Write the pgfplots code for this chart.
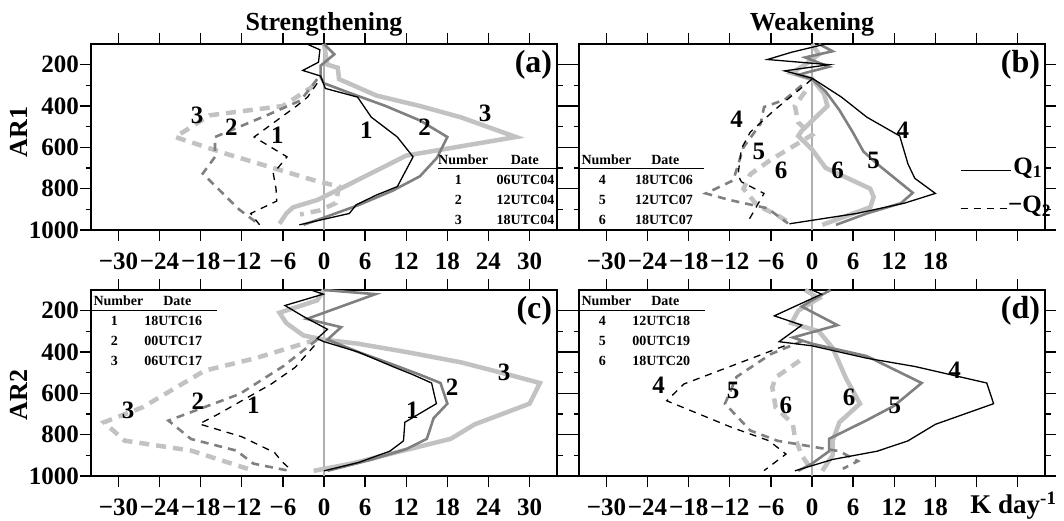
\documentclass[border=0pt]{standalone}
\usepackage{fontspec}
\setmainfont{Liberation Serif}
\usepackage{pgfplots}
\pgfplotsset{compat=1.18}
\definecolor{g2}{RGB}{128,128,128}
\definecolor{g3}{RGB}{194,194,194}
\definecolor{g0}{RGB}{175,175,175}
\newcommand\fs[1]{\fontsize{#1}{#1}\selectfont\bfseries}
\newcommand\tl[1]{\mbox{\fs{25}#1}}
\tikzset{
  q1/.style={black,line width=1.3pt},
  q2/.style={g2,line width=2.6pt},
  q3/.style={g3,line width=4.5pt},
  d1/.style={q1,dash pattern=on 7pt off 6pt},
  d2/.style={q2,dash pattern=on 8pt off 6pt},
  d3/.style={q3,dash pattern=on 10pt off 7pt},
  zl/.style={g0,line width=1.1pt},
  lab/.style={font=\fs{25}},
  tab/.style={font=\fs{14}},
}
\pgfplotsset{
  panel/.style={
    scale only axis, width=466pt, height=186pt,
    xmin=-34, xmax=34, ymin=100, ymax=1000, y dir=reverse,
    xtick={-30,-24,...,30},
    ytick={200,400,600,800,1000},
    yticklabels={\tl{200},\tl{400},\tl{600},\tl{800},\tl{1000}},
    minor ytick={300,500,700,900},
    tick align=outside,
    major tick length=11pt, minor tick length=5.5pt,
    tick style={black,line width=1.3pt},
    axis line style={line width=1.5pt},
    ticklabel style={font=\fs{25}},
    xticklabel style={yshift=-8pt},
    yticklabel style={inner xsep=1pt},
    clip=false,
  },
  full/.style={xticklabels={\tl{−30},\tl{−24},\tl{−18},\tl{−12},\tl{−6},\tl{0},\tl{6},\tl{12},\tl{18},\tl{24},\tl{30}}},
  part/.style={xticklabels={\tl{−30},\tl{−24},\tl{−18},\tl{−12},\tl{−6},\tl{0},\tl{6},\tl{12},\tl{18},,}, yticklabels={}},
}
\begin{document}
\begin{tikzpicture}
\useasboundingbox (0,0) rectangle (1064pt,520pt);

% (a) AR1 strengthening
\begin{axis}[panel, full, at={(91pt,290pt)}]
\addplot[zl] coordinates {(0,100)(0,1000)};
\addplot[d3] coordinates {(-1.4,300)(-6,400)(-16.7,445)(-21.7,550)(-14.4,630)(-1.4,760)(2.2,790)(1.7,870)(-0.6,905)(-3.5,925)};
\addplot[q3] coordinates {(0,100)(0.5,200)(2,215)(2.2,270)(7.7,350)(14,400)(20,455)(28,550)(12,640)(6,740)(3,790)(-1,855)(-4.5,890)(-5.5,920)(-6.5,970)};
\addplot[d2] coordinates {(-1,270)(-3.4,373)(-8,440)(-15.9,550)(-15.9,646)(-17.7,727)(-12.4,900)(-9.4,975)};
\addplot[q2] coordinates {(0,100)(1.5,150)(-0.5,205)(-0.5,260)(0,290)(4,340)(9,400)(14,470)(18,550)(16.5,650)(14,740)(10,810)(5,880)(0,940)(-3,975)};
\addplot[d1] coordinates {(-1,290)(-2.4,357)(-4,400)(-10.2,550)(-5.4,646)(-7.4,727)(-7,800)(-6.9,860)(-10.7,920)(-9.4,975)};
\addplot[q1] coordinates {(-2.5,100)(-0.6,128)(-0.8,188)(-3.1,228)(-0.5,255)(0.2,315)(4.9,357)(6.9,454)(10.7,550)(13,646)(10.7,790)(7.7,830)(4.7,878)(3.7,920)(-3.6,975)};
\node[lab] at (axis cs:-18.5,445) {3};
\node[lab] at (axis cs:-13.5,502) {2};
\node[lab] at (axis cs:-6.8,542) {1};
\node[lab] at (axis cs:6.2,518) {1};
\node[lab] at (axis cs:14.7,502) {2};
\node[lab] at (axis cs:23.5,437) {3};
\node[font=\fs{32},anchor=east] at (axis cs:33.8,200) {(a)};
\node[tab] at (axis cs:20.3,659) {Number};
\node[tab] at (axis cs:29.3,659) {Date};
\draw[line width=1pt] (axis cs:16.7,704) -- (axis cs:34,704);
\node[tab] at (axis cs:19.6,759) {1};
\node[tab] at (axis cs:29.4,759) {06UTC04};
\node[tab] at (axis cs:19.6,856) {2};
\node[tab] at (axis cs:29.4,856) {12UTC04};
\node[tab] at (axis cs:19.6,952) {3};
\node[tab] at (axis cs:29.4,952) {18UTC04};
\end{axis}

% (b) AR1 weakening
\begin{axis}[panel, part, at={(579pt,290pt)}]
\addplot[zl] coordinates {(0,100)(0,1000)};
\addplot[d3] coordinates {(-1,330)(-2.5,400)(-2,480)(0,540)(-3,600)(-6,660)(-9,730)(-10,800)(-8,880)(-5,930)(-3,970)};
\addplot[q3] coordinates {(0,100)(1,150)(-1,200)(-3,240)(0,270)(1.75,340)(2.25,400)(-1.5,520)(-2,545)(0,610)(2,700)(8.5,800)(9,840)(8.5,890)(1.5,975)};
\addplot[d2] coordinates {(-1.5,300)(-4,370)(-7,405)(-7.5,486)(-10,600)(-11.5,760)(-15.5,823)(-12,855)(-6.5,895)(-3.5,968)};
\addplot[q2] coordinates {(1,100)(3,135)(-1,165)(2.5,210)(-1,240)(-2,250)(0,270)(2,330)(4,420)(6,530)(7.5,620)(9.5,680)(14.7,820)(13,870)(8,920)(3.5,975)};
\addplot[d1] coordinates {(0,270)(-2,325)(-5.5,420)(-9,526)(-10.3,606)(-10.8,735)(-10.3,767)(-7,823)(-9.5,968)};
\addplot[q1] coordinates {(2,100)(-3,140)(-6.5,175)(2.5,200)(-4,230)(0,265)(4.3,357)(8,454)(12.8,545)(14,680)(15,750)(18,823)(13.5,870)(6.5,920)(-3.3,970)};
\node[lab] at (axis cs:-11,462) {4};
\node[lab] at (axis cs:-7.75,622) {5};
\node[lab] at (axis cs:-4.5,711) {6};
\node[lab] at (axis cs:13.25,518) {4};
\node[lab] at (axis cs:9,662) {5};
\node[lab] at (axis cs:3.75,711) {6};
\node[font=\fs{32},anchor=east] at (axis cs:33.8,200) {(b)};
\node[tab] at (axis cs:-30,659) {Number};
\node[tab] at (axis cs:-21.4,659) {Date};
\draw[line width=1pt] (axis cs:-34,704) -- (axis cs:-15.75,704);
\node[tab] at (axis cs:-30.6,759) {4};
\node[tab] at (axis cs:-21.6,759) {18UTC06};
\node[tab] at (axis cs:-30.6,856) {5};
\node[tab] at (axis cs:-21.6,856) {12UTC07};
\node[tab] at (axis cs:-30.6,952) {6};
\node[tab] at (axis cs:-21.6,952) {18UTC07};
\draw[q1] (axis cs:21.7,711) -- (axis cs:29,711);
\node[lab,anchor=west,inner xsep=1pt] at (axis cs:29.2,700) {Q\textsubscript{1}};
\draw[q1,dash pattern=on 7pt off 6pt] (axis cs:21.7,895) -- (axis cs:28.6,895);
\node[lab,anchor=west,inner xsep=0pt] at (axis cs:28.6,884) {−Q\textsubscript{2}};
\end{axis}

% (c) AR2 strengthening
\begin{axis}[panel, full, at={(91pt,44pt)}]
\addplot[zl] coordinates {(0,100)(0,1000)};
\addplot[d3] coordinates {(-1.1,340)(-10,430)(-17.4,490)(-26.5,668)(-32.1,740)(-29.1,829)(-19.4,877)(-10.3,974)};
\addplot[q3] coordinates {(0,100)(-1,150)(-6.5,210)(-5.5,260)(-3,320)(0,340)(5,360)(12,400)(20,450)(27,510)(31.5,550)(30,650)(22,750)(18.5,820)(10,890)(4,940)(-1.5,975)};
\addplot[d2] coordinates {(-1,340)(-6,470)(-12.3,603)(-22.7,732)(-19.4,821)(-12.8,877)(-10.3,940)(-5.2,974)};
\addplot[q2] coordinates {(0,100)(7.5,120)(-2.5,240)(2.5,280)(0.5,340)(5,400)(10,460)(14,510)(17,550)(18,650)(16,720)(15,820)(12,870)(7,920)(0.5,975)};
\addplot[d1] coordinates {(-1.4,369)(-4.2,474)(-7.7,555)(-15.4,700)(-18.2,748)(-12,810)(-7.2,887)(-6.2,928)(-4.7,974)};
\addplot[q1] coordinates {(-1.9,100)(-0.1,120)(-5.7,175)(-2.9,230)(0.5,290)(-1,335)(0,350)(5,400)(10,470)(13,510)(15.7,550)(16.4,650)(11.8,740)(11.6,830)(9.6,880)(5,935)(0,975)};
\node[lab] at (axis cs:-28.6,684) {3};
\node[lab] at (axis cs:-18.4,636) {2};
\node[lab] at (axis cs:-10.3,660) {1};
\node[lab] at (axis cs:12.9,684) {1};
\node[lab] at (axis cs:18.7,571) {2};
\node[lab] at (axis cs:26.3,498) {3};
\node[font=\fs{32},anchor=east] at (axis cs:33.8,200) {(c)};
\node[tab] at (axis cs:-30,153) {Number};
\node[tab] at (axis cs:-21.4,153) {Date};
\draw[line width=1pt] (axis cs:-34,197) -- (axis cs:-15.6,197);
\node[tab] at (axis cs:-30.6,249) {1};
\node[tab] at (axis cs:-22,249) {18UTC16};
\node[tab] at (axis cs:-30.6,346) {2};
\node[tab] at (axis cs:-22,346) {00UTC17};
\node[tab] at (axis cs:-30.6,443) {3};
\node[tab] at (axis cs:-22,443) {06UTC17};
\end{axis}

% (d) AR2 weakening
\begin{axis}[panel, part, at={(579pt,44pt)}]
\addplot[zl] coordinates {(0,100)(0,1000)};
\addplot[d3] coordinates {(-1.8,442)(-5.3,523)(-5.8,571)(-5.3,668)(-2.8,748)(-2.5,813)(-1.5,900)(-0.3,958)};
\addplot[q3] coordinates {(-1,100)(1,140)(-2,200)(-3,260)(1,300)(3,380)(5,530)(7,650)(4,740)(3,830)(3,900)(1.5,975)};
\addplot[d2] coordinates {(-1.3,345)(-6,410)(-11,520)(-12.7,650)(-9,780)(-5,830)(4,880)(6.7,928)(4.5,965)};
\addplot[q2] coordinates {(2.7,100)(0,150)(-1.5,180)(3.7,270)(-2.8,330)(0,360)(8,420)(16,550)(12,660)(8,730)(2.5,820)(2.5,880)(0,940)(-2,975)};
\addplot[d1] coordinates {(-4,370)(-18.7,555)(-21.2,636)(-11.7,765)(-6.3,829)(-3.8,894)(-7,974)};
\addplot[q1] coordinates {(0,100)(1.4,120)(-5.5,225)(-1.5,270)(-4.8,350)(0,370)(8,430)(15,470)(25.5,550)(26.5,650)(18,750)(14,830)(9.5,880)(3,920)(-2.5,975)};
\node[lab] at (axis cs:-22.4,563) {4};
\node[lab] at (axis cs:-11.5,587) {5};
\node[lab] at (axis cs:-3.8,660) {6};
\node[lab] at (axis cs:20.8,490) {4};
\node[lab] at (axis cs:12.1,660) {5};
\node[lab] at (axis cs:5.4,619) {6};
\node[font=\fs{32},anchor=east] at (axis cs:33.8,200) {(d)};
\node[tab] at (axis cs:-30,153) {Number};
\node[tab] at (axis cs:-21.4,153) {Date};
\draw[line width=1pt] (axis cs:-34,197) -- (axis cs:-15.6,197);
\node[tab] at (axis cs:-30.6,249) {4};
\node[tab] at (axis cs:-22,249) {12UTC18};
\node[tab] at (axis cs:-30.6,346) {5};
\node[tab] at (axis cs:-22,346) {00UTC19};
\node[tab] at (axis cs:-30.6,443) {6};
\node[tab] at (axis cs:-22,443) {18UTC20};
\end{axis}

\node[font=\fs{26}] at (324pt,496pt) {Strengthening};
\node[font=\fs{26}] at (812pt,496pt) {Weakening};
\node[font=\fs{26},rotate=90] at (19pt,388pt) {AR1};
\node[font=\fs{26},rotate=90] at (19pt,125pt) {AR2};
\node[font=\fs{27},anchor=east] at (1060pt,14pt) {K day\textsuperscript{-1}};
\end{tikzpicture}
\end{document}
